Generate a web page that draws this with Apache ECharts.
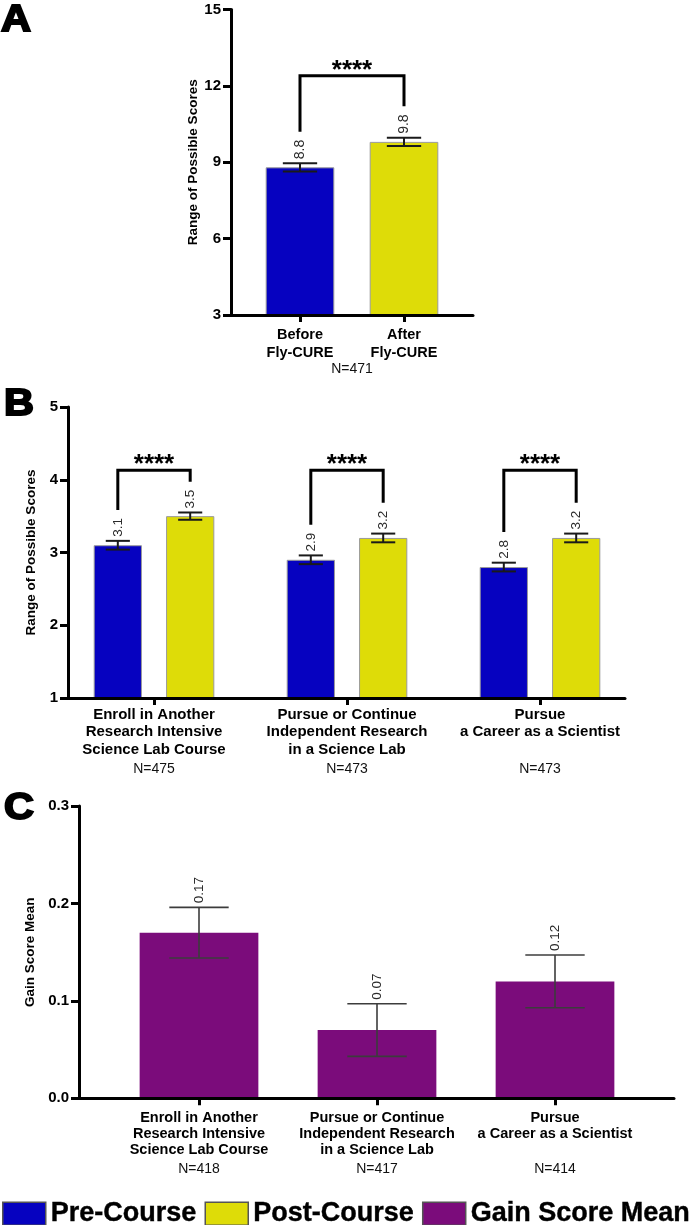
<!DOCTYPE html>
<html>
<head>
<meta charset="utf-8">
<script src="https://cdn.jsdelivr.net/npm/echarts@6/dist/echarts.min.js"></script>
<style>html,body{margin:0;padding:0;background:#fff}#c{width:696px;height:1225px}</style>
</head>
<body>
<div id="c"></div>
<script>
// ---------------- data ----------------
const aCategories = ['Before\nFly-CURE', 'After\nFly-CURE'];
const aValues = [8.8, 9.8];
const aErrors = [0.16, 0.16];
const aN = 'N=471';
const aTicks = [3, 6, 9, 12, 15];
const aBracketTop = 12.4;

const bCategories = ['Enroll in Another\nResearch Intensive\nScience Lab Course',
  'Pursue or Continue\nIndependent Research\nin a Science Lab',
  'Pursue\na Career as a Scientist'];
const bN = ['N=475', 'N=473', 'N=473'];
const bPre = [3.1, 2.9, 2.8];
const bPreErr = [0.06, 0.06, 0.06];
const bPost = [3.5, 3.2, 3.2];
const bPostErr = [0.05, 0.06, 0.06];
const bTicks = [1, 2, 3, 4, 5];
const bBracketTop = 4.13;

const cCategories = bCategories;
const cN = ['N=418', 'N=417', 'N=414'];
const cGain = [0.17, 0.07, 0.12];
const cErr = [0.026, 0.027, 0.027];
const cTicks = [0, 0.1, 0.2, 0.3];

const stars = '****';
const seriesNames = ['Pre-Course', 'Post-Course', 'Gain Score Mean'];

// ---------------- style ----------------
const FONT = '"Liberation Sans", Arial, sans-serif';
const BLUE = '#0602C0', YELLOW = '#DEDC08', PURPLE = '#7B0C7B';
const measureCtx = document.createElement('canvas').getContext('2d');
function textW(t, size) { measureCtx.font = size + 'px ' + FONT; return measureCtx.measureText(t).width; }

function frameAxes(gi, ticks, name, nameGap, fmt, xName, xNameGap) {
  const step = ticks[1] - ticks[0];
  return {
    x: { type: 'value', gridIndex: gi, min: 0, max: 1, z: 5,
      axisLine: { show: true, lineStyle: { color: '#000', width: 3 } },
      axisTick: { show: false }, axisLabel: { show: false }, splitLine: { show: false },
      name: xName || '', nameLocation: 'middle', nameGap: xNameGap || 0,
      nameTextStyle: { fontFamily: FONT, fontSize: 14, color: '#111', lineHeight: 16 } },
    y: { type: 'value', gridIndex: gi, min: ticks[0], max: ticks[ticks.length - 1], interval: step, z: 5,
      axisLine: { show: true, lineStyle: { color: '#000', width: 3 } },
      axisTick: { show: true, length: 8, lineStyle: { color: '#000', width: 3 } },
      axisLabel: { show: true, margin: 10, fontFamily: FONT, fontWeight: 'bold', fontSize: 15, color: '#000',
        formatter: fmt },
      splitLine: { show: false },
      name: name, nameLocation: 'middle', nameGap: nameGap, nameRotate: 90,
      nameTextStyle: { fontFamily: FONT, fontWeight: 'bold', fontSize: 13.5, color: '#000' } }
  };
}

function catAxis(gi, cats, margin, fmt, rich, plain) {
  return { type: 'category', gridIndex: gi, data: cats, boundaryGap: true,
    axisLine: { show: false },
    axisTick: { show: true, alignWithLabel: true, length: 7, lineStyle: { color: '#000', width: 3 } },
    axisLabel: Object.assign({ show: true, interval: 0, margin: margin, color: '#000', fontFamily: FONT },
      plain ? { fontWeight: 'bold', fontSize: 14.5, lineHeight: 17.7 } : { formatter: fmt, rich: rich }),
    splitLine: { show: false } };
}
function hiddenY(gi, ticks) {
  return { type: 'value', gridIndex: gi, min: ticks[0], max: ticks[ticks.length - 1], show: false };
}

function richFmt(N) {
  return function (value, index) {
    const lines = value.split('\n');
    let s = lines.map(l => '{b|' + l + '}').join('\n');
    for (let k = lines.length; k < 3; k++) s += '\n{b| }';
    return s + '\n{n|' + N[index] + '}';
  };
}
function richStyle(bLH, nLH, bSize) {
  return { b: { fontFamily: FONT, fontWeight: 'bold', fontSize: bSize, lineHeight: bLH, color: '#000' },
           n: { fontFamily: FONT, fontSize: 14, lineHeight: nLH, color: '#111' } };
}

// error bar + value label renderer
function errSeries(xi, yi, vals, errs, offFrac, barFrac, dec, labelSize, color, lw) {
  return {
    type: 'custom', xAxisIndex: xi, yAxisIndex: yi, z: 10, silent: true,
    data: vals.map((v, i) => [i, v, errs[i]]),
    renderItem: function (params, api) {
      const i = api.value(0), v = api.value(1), e = api.value(2);
      const band = api.size([1, 0])[0];
      const cx = api.coord([i, v])[0] + offFrac * band;
      const yT = api.coord([i, v + e])[1], yB = api.coord([i, v - e])[1];
      const half = barFrac * band * 0.25;
      const ls = { stroke: color, lineWidth: lw };
      return { type: 'group', children: [
        { type: 'line', shape: { x1: cx, y1: yT, x2: cx, y2: yB }, style: ls },
        { type: 'line', shape: { x1: cx - half, y1: yT, x2: cx + half, y2: yT }, style: ls },
        { type: 'line', shape: { x1: cx - half, y1: yB, x2: cx + half, y2: yB }, style: ls },
        { type: 'text', x: cx, y: yT - 4, rotation: Math.PI / 2,
          style: { text: v.toFixed(dec), fill: '#2a2a2a', font: labelSize + 'px ' + FONT,
            align: 'left', verticalAlign: 'middle' } }
      ] };
    }
  };
}

// significance bracket renderer
function bracketSeries(xi, yi, items, topVal, labelSize) {
  return {
    type: 'custom', xAxisIndex: xi, yAxisIndex: yi, z: 10, silent: true,
    data: items.map(it => [it.catL, topVal]),
    renderItem: function (params, api) {
      const it = items[params.dataIndex];
      const band = api.size([1, 0])[0];
      const xl = api.coord([it.catL, topVal])[0] + it.offL * band;
      const xr = api.coord([it.catR, topVal])[0] + it.offR * band;
      const yTop = api.coord([it.catL, topVal])[1];
      const yl = api.coord([it.catL, it.topL])[1] - 4 - textW(it.labL, labelSize) - 8;
      const yr = api.coord([it.catR, it.topR])[1] - 4 - textW(it.labR, labelSize) - 8;
      return { type: 'group', children: [
        { type: 'polyline', shape: { points: [[xl, yl], [xl, yTop], [xr, yTop], [xr, yr]] },
          style: { stroke: '#000', lineWidth: 3, fill: null } },
        { type: 'text', x: (xl + xr) / 2, y: yTop - 5,
          style: { text: stars, fill: '#000', font: 'bold 26px ' + FONT, align: 'center', verticalAlign: 'middle' } }
      ] };
    }
  };
}

const aBrackets = [{ catL: 0, catR: 1, offL: 0, offR: 0,
  topL: aValues[0] + aErrors[0], topR: aValues[1] + aErrors[1],
  labL: aValues[0].toFixed(1), labR: aValues[1].toFixed(1) }];
const bOff = 0.1875;
const bBrackets = bPre.map((v, i) => ({ catL: i, catR: i, offL: -bOff, offR: bOff,
  topL: v + bPreErr[i], topR: bPost[i] + bPostErr[i],
  labL: v.toFixed(1), labR: bPost[i].toFixed(1) }));

const fA = frameAxes(0, aTicks, 'Range of Possible Scores', 28, v => String(v), aN, 46);
const fB = frameAxes(2, bTicks, 'Range of Possible Scores', 22, v => String(v));
const fC = frameAxes(4, cTicks, 'Gain Score Mean', 33, v => v.toFixed(1));

const grids = [
  { left: 231, top: 9.5, width: 242, height: 305.5 },
  { left: 248, top: 9.5, width: 208, height: 305.5 },
  { left: 68, top: 407, width: 557, height: 291 },
  { left: 57.5, top: 407, width: 579, height: 291 },
  { left: 79, top: 806, width: 595, height: 292.3 },
  { left: 110, top: 806, width: 534, height: 292.3 }
].map(g => Object.assign({ outerBoundsMode: 'none', containLabel: false }, g));

const barBorder = { borderColor: '#9a9a9a', borderWidth: 1 };
const letterStyle = { font: 'bold 37px ' + FONT, fill: '#000', stroke: '#000', lineWidth: 2 };

const option = {
  animation: false,
  backgroundColor: '#fff',
  textStyle: { fontFamily: FONT },
  grid: grids,
  xAxis: [fA.x, catAxis(1, aCategories, 11, null, null, true),
          fB.x, catAxis(3, bCategories, 8, richFmt(bN), richStyle(17.5, 21.5, 15)),
          fC.x, catAxis(5, cCategories, 12, richFmt(cN), richStyle(16, 22, 14.5))],
  yAxis: [fA.y, hiddenY(1, aTicks), fB.y, hiddenY(3, bTicks), fC.y, hiddenY(5, cTicks)],
  legend: {
    data: seriesNames, left: 2, top: 1200, width: 694, orient: 'horizontal', padding: 0,
    itemWidth: 43, itemHeight: 23, itemGap: 8, icon: 'rect', selectedMode: false,
    itemStyle: { borderColor: '#555', borderWidth: 1.5 },
    textStyle: { fontFamily: FONT, fontWeight: 'bold', fontSize: 27, color: '#000',
      textBorderColor: '#000', textBorderWidth: 0.4 }
  },
  series: [
    { name: seriesNames[0], type: 'bar', xAxisIndex: 1, yAxisIndex: 1, data: [aValues[0], '-'],
      barWidth: '66%', barGap: '-100%', itemStyle: Object.assign({ color: BLUE }, barBorder) },
    { name: seriesNames[1], type: 'bar', xAxisIndex: 1, yAxisIndex: 1, data: ['-', aValues[1]],
      barWidth: '66%', barGap: '-100%', itemStyle: Object.assign({ color: YELLOW }, barBorder) },
    errSeries(1, 1, aValues, aErrors, 0, 0.66, 1, 14, '#1a1a1a', 2),
    bracketSeries(1, 1, aBrackets, aBracketTop, 14),

    { name: seriesNames[0], type: 'bar', xAxisIndex: 3, yAxisIndex: 3, data: bPre,
      barWidth: '25%', barGap: '50%', itemStyle: Object.assign({ color: BLUE }, barBorder) },
    { name: seriesNames[1], type: 'bar', xAxisIndex: 3, yAxisIndex: 3, data: bPost,
      barWidth: '25%', barGap: '50%', itemStyle: Object.assign({ color: YELLOW }, barBorder) },
    errSeries(3, 3, bPre, bPreErr, -bOff, 0.25, 1, 13.5, '#1a1a1a', 2),
    errSeries(3, 3, bPost, bPostErr, bOff, 0.25, 1, 13.5, '#1a1a1a', 2),
    bracketSeries(3, 3, bBrackets, bBracketTop, 13.5),

    { name: seriesNames[2], type: 'bar', xAxisIndex: 5, yAxisIndex: 5, data: cGain,
      barWidth: '66.7%', itemStyle: { color: PURPLE } },
    errSeries(5, 5, cGain, cErr, 0, 0.667, 2, 13.5, '#3c3c3c', 1.6)
  ],
  graphic: [
    { type: 'text', left: 0, top: 1, scaleX: 1.12, style: Object.assign({ text: 'A' }, letterStyle) },
    { type: 'text', left: 3, top: 385, scaleX: 1.12, style: Object.assign({ text: 'B' }, letterStyle) },
    { type: 'text', left: 3, top: 789, scaleX: 1.12, style: Object.assign({ text: 'C' }, letterStyle) }
  ]
};

const chart = echarts.init(document.getElementById('c'), null, { renderer: 'canvas' });
chart.setOption(option);
</script>
</body>
</html>
